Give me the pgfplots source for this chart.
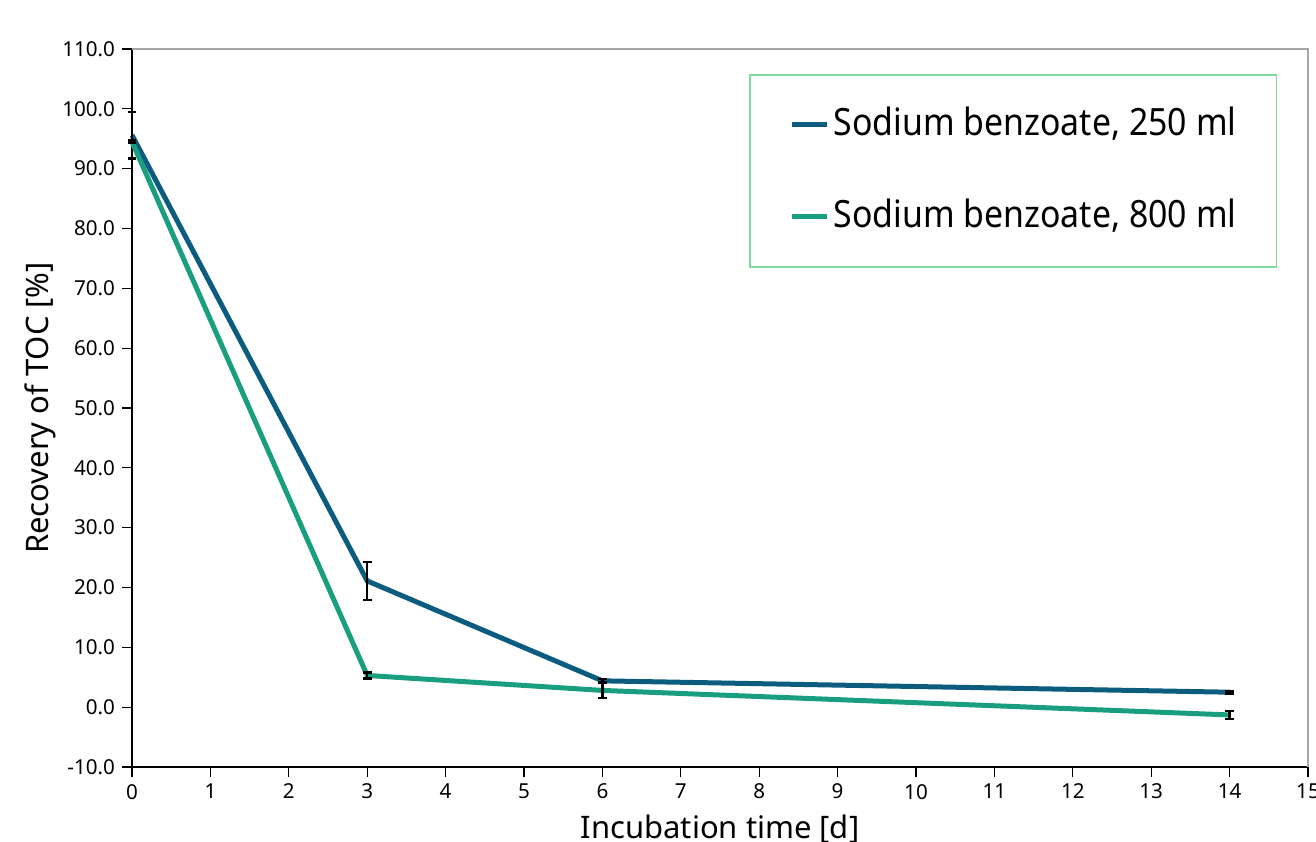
\documentclass[border=0pt]{standalone}
\usepackage{fontspec}
\setmainfont{Noto Sans}
\newfontfamily\legfont[FakeStretch=0.9]{Noto Sans}
\usepackage{pgfplots}
\pgfplotsset{compat=1.18}
\usetikzlibrary{calc}
\definecolor{cblue}{RGB}{12,92,128}
\definecolor{cgreen}{RGB}{26,158,128}
\definecolor{cframe}{RGB}{128,218,160}

\begin{document}
\begin{tikzpicture}
\begin{axis}[
  name=ax,
  scale only axis, width=588pt, height=359pt,
  xmin=0, xmax=15, ymin=-10, ymax=110,
  axis lines=left, axis line style={black, line width=0.6pt, -},
  tick align=outside, major tick length=5pt,
  tick style={black, line width=0.6pt},
  xtick={0,1,...,15}, ytick={-10,0,...,110},
  xticklabels={0,1,2,3,4,5,6,7,8,9,10,11,12,13,14,15},
  yticklabels={-10.0,0.0,10.0,20.0,30.0,40.0,50.0,60.0,70.0,80.0,90.0,100.0,110.0},
  ticklabel style={font=\fontsize{10.3}{12}\selectfont},
  xlabel={Incubation time [d]},
  ylabel={Recovery of TOC [\%]},
  label style={font=\fontsize{15.5}{19}\selectfont},
  xlabel style={at={(axis description cs:0.5,0)}, anchor=north, inner sep=0pt, yshift=-24pt},
  ylabel style={at={(axis description cs:-0.078,0.5)}, anchor=center, inner sep=0pt},
  legend style={at={(rel axis cs:0.5247,0.9652)}, anchor=north west,
    draw=cframe, line width=0.8pt, inner xsep=20pt, inner ysep=16pt,
    row sep=28pt, font=\legfont\fontsize{18.8}{22}\selectfont,
    nodes={inner sep=0pt, text height=14.5pt, text depth=3.5pt},
    /tikz/every odd column/.style={column sep=2pt}},
  legend image code/.code={\draw[#1, line width=2.5pt] (0pt,0pt) -- (17.5pt,0pt);},
  legend cell align=left,
  clip=false,
]
\addplot[cblue, line width=2.5pt,
  error bars/.cd, y dir=both, y explicit,
  error bar style={black, line width=1.2pt},
  error mark options={rotate=90, black, mark size=2.2pt, line width=1.2pt}]
  coordinates {(0,95.6) +- (0,3.9) (3,21.1) +- (0,3.2) (6,4.4) +- (0,0.3) (14,2.5) +- (0,0.2)};
\addlegendentry{Sodium benzoate, 250 ml}
\addplot[cgreen, line width=2.5pt,
  error bars/.cd, y dir=both, y explicit,
  error bar style={black, line width=1.2pt},
  error mark options={rotate=90, black, mark size=2.2pt, line width=1.2pt}]
  coordinates {(0,94.5) +- (0,0.2) (3,5.3) +- (0,0.5) (6,2.8) +- (0,1.3) (14,-1.3) +- (0,0.7)};
\addlegendentry{Sodium benzoate, 800 ml}
\draw[gray!70, line width=0.6pt] (rel axis cs:0,1) -- (rel axis cs:1,1) -- (rel axis cs:1,0);
\end{axis}
\pgfresetboundingbox
\path[use as bounding box] ($(ax.south west)+(-66pt,-37pt)$) rectangle ($(ax.north east)+(4pt,24.5pt)$);
\end{tikzpicture}
\end{document}
